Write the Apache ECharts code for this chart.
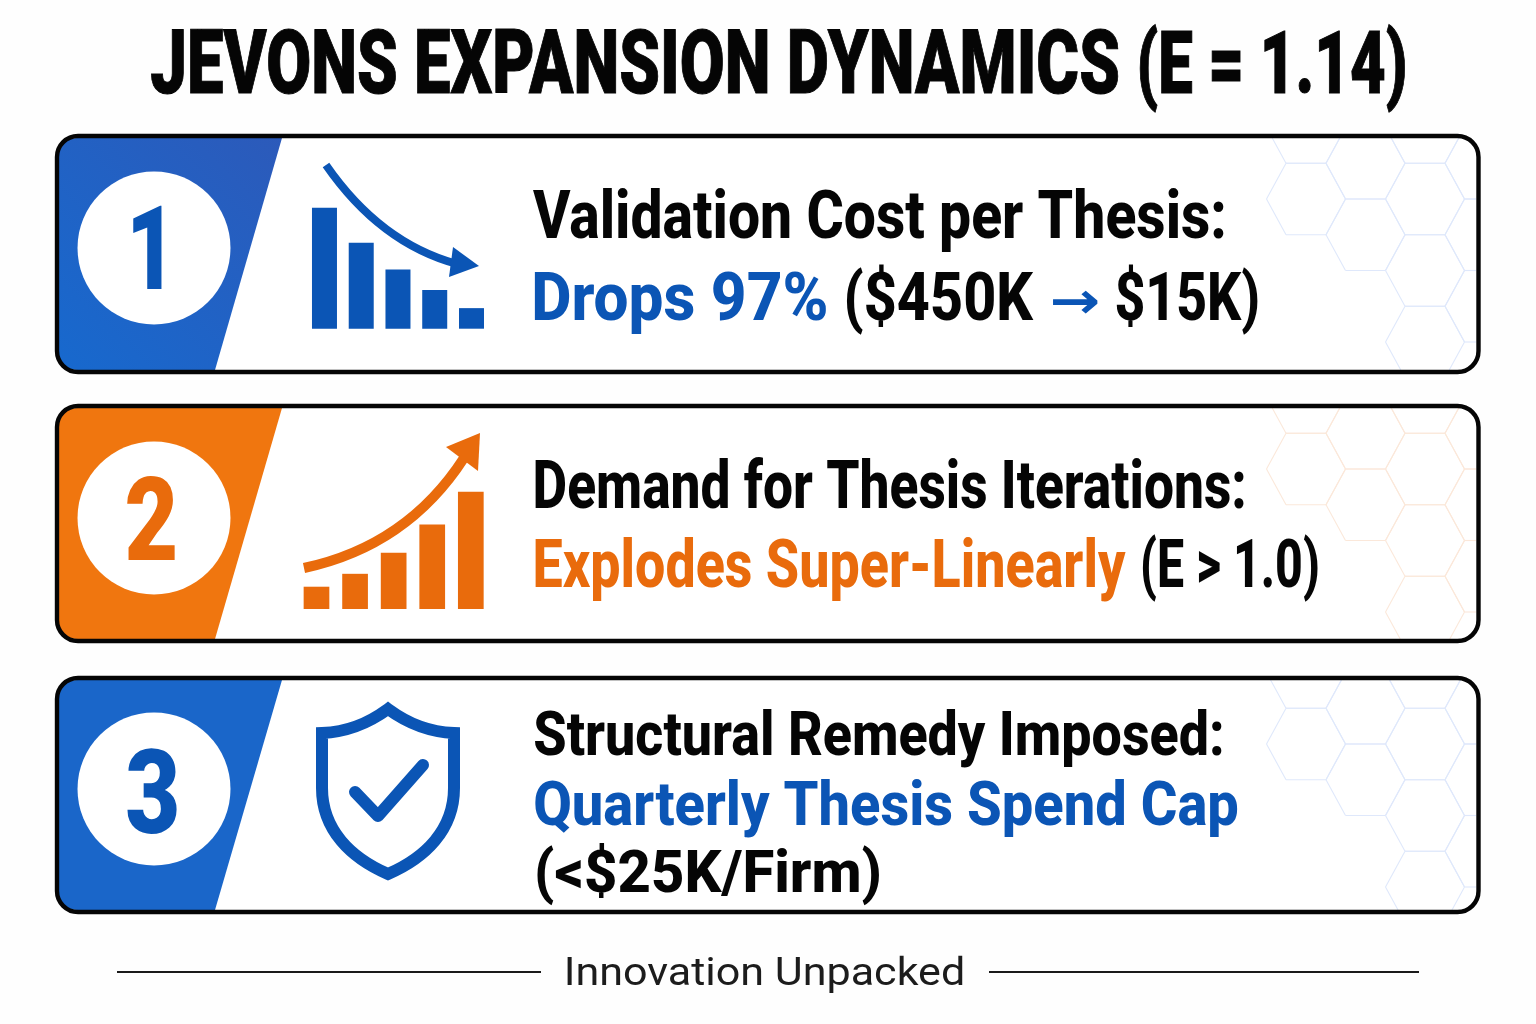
<!DOCTYPE html>
<html><head><meta charset="utf-8">
<style>html,body{margin:0;padding:0;background:#fefefe}#c{width:1536px;height:1024px}</style>
<script src="https://cdn.jsdelivr.net/npm/echarts@6/dist/echarts.min.js"></script>
</head><body><div id="c"></div>
<script>
// ---- content ----
const titlePieces = ['JEVONS EXPANSION DYNAMICS', '(E = 1.14)'];
const badgeLabels = ['1', '2', '3'];
const headings = ['Validation Cost per Thesis:', 'Demand for Thesis Iterations:', 'Structural Remedy Imposed:'];
const costPieces = ['Drops 97%', '($450K', '\u2192', '$15K)'];
const demandPieces = ['Explodes Super-Linearly', '(E > 1.0)'];
const remedyLines = ['Quarterly Thesis Spend Cap', '(<$25K/Firm)'];
const footerText = 'Innovation Unpacked';
const barCategories = ['a', 'b', 'c', 'd', 'e'];
const costBars = [100, 71, 49, 32, 17];
const demandBars = [19, 30, 48, 72, 100];

// ---- style ----
const BLUE = '#0B55B5', ORANGE = '#E96B0C', BLACK = '#050505';
const NARROW = 'Roboto, sans-serif';
const ctx = document.createElement('canvas').getContext('2d');

let shapeId = 0;
function svg(d, style) {
  const name = 'svgShape' + (shapeId++);
  echarts.graphic.registerShape(name, echarts.graphic.extendPath(d, {}));
  return { type: name, style: style };
}

function fit(text, x0, x1, base, size, color, opt) {
  opt = opt || {};
  const font = (opt.weight || '800') + ' ' + size + 'px ' + (opt.family || NARROW);
  ctx.font = font; ctx.textBaseline = 'middle'; ctx.textAlign = 'left';
  const m = ctx.measureText(text);
  const ink = m.actualBoundingBoxLeft + m.actualBoundingBoxRight;
  const s = (x1 - x0) / ink;
  const d = ctx.measureText('H').actualBoundingBoxDescent;
  return {
    type: 'text', x: x0 + s * m.actualBoundingBoxLeft, y: base - d, scaleX: s, scaleY: opt.sy || 1,
    style: { text: text, font: font, fill: color, align: 'left', verticalAlign: 'middle',
      stroke: opt.stroke ? color : null, lineWidth: opt.stroke || 0 }
  };
}

function clipSeg(a, b, box) {
  let t0 = 0, t1 = 1; const dx = b[0] - a[0], dy = b[1] - a[1];
  const tests = [[-dx, a[0] - box[0]], [dx, box[2] - a[0]], [-dy, a[1] - box[1]], [dy, box[3] - a[1]]];
  for (const [p, q] of tests) {
    if (p === 0) { if (q < 0) return null; continue; }
    const r = q / p;
    if (p < 0) { if (r > t1) return null; if (r > t0) t0 = r; }
    else { if (r < t0) return null; if (r < t1) t1 = r; }
  }
  return [[a[0] + t0 * dx, a[1] + t0 * dy], [a[0] + t1 * dx, a[1] + t1 * dy]];
}

const hexCells = [[0,-2],[0,0],[1,-1],[1,1],[2,-2],[2,0],[2,2],[2,4],[3,-1],[3,1],[3,3]];
function hexes(dy, top, bot, color) {
  const out = [];
  const box = [1200, top + 2, 1476, bot - 2];
  hexCells.forEach(([c, r]) => {
    const cx = 1306 + 59.5 * c, cy = 199 + 35.75 * r + dy;
    const v = [[cx-39.5,cy],[cx-20,cy-35.75],[cx+20,cy-35.75],[cx+39.5,cy],[cx+20,cy+35.75],[cx-20,cy+35.75]];
    v.forEach((p, i) => {
      const seg = clipSeg(p, v[(i + 1) % 6], box);
      if (seg) out.push({ type: 'line', shape: { x1: seg[0][0], y1: seg[0][1], x2: seg[1][0], y2: seg[1][1] },
        style: { stroke: color, lineWidth: 1.1 } });
    });
  });
  return out;
}

function panel(top, bot, fill, cy, hexDy, hexColor) {
  const t = top + 2, b = bot - 2;
  const tilt = 282, foot = 215;
  return [
    ...hexes(hexDy, top, bot, hexColor),
    svg(`M${tilt},${t}L${foot},${b}L78,${b}Q57,${b} 57,${b-21}L57,${t+21}Q57,${t} 78,${t}Z`, { fill: fill }),
    { type: 'rect', shape: { x: 57, y: top, width: 1421.5, height: bot - top, r: 21 }, style: { fill: null, stroke: '#050505', lineWidth: 4.4 } },
    { type: 'circle', shape: { cx: 154, cy: cy, r: 76.5 }, style: { fill: '#ffffff' } }
  ];
}

function grad(c0, c1) {
  return { type: 'linear', x: 0, y: 1, x2: 1, y2: 0, global: false, colorStops: [{ offset: 0, color: c0 }, { offset: 1, color: c1 }] };
}

const graphics = [
  { type: 'rect', shape: { x: 57, y: 136, width: 1421, height: 236, r: 21 }, style: { fill: '#ffffff' } },
  { type: 'rect', shape: { x: 57, y: 406, width: 1421, height: 235, r: 21 }, style: { fill: '#ffffff' } },
  { type: 'rect', shape: { x: 57, y: 678, width: 1421, height: 234, r: 21 }, style: { fill: '#ffffff' } },
  ...panel(136, 372, grad('#1769CE', '#2C5ABA'), 248, 0, '#DFE8FB'),
  ...panel(406, 641, '#F0760F', 518, 270, '#FBE8DA'),
  ...panel(678, 912, '#1A66C9', 789, 545, '#DFE8FB'),

  fit(titlePieces[0], 151, 1118, 93.5, 89, BLACK, { weight: '900', stroke: 1 }),
  fit(titlePieces[1], 1140, 1405, 93, 87, BLACK, { weight: '900', stroke: 1 }),

  fit(badgeLabels[0], 133, 162, 289, 116, BLUE, { weight: '900' }),
  fit(badgeLabels[1], 127, 175, 560, 116, ORANGE, { weight: '900' }),
  fit(badgeLabels[2], 127, 177, 833, 116, BLUE, { weight: '900' }),

  fit(headings[0], 533, 1224, 238, 67, BLACK),
  fit(costPieces[0], 534, 826, 320, 67, BLUE),
  fit(costPieces[1], 847, 1034, 320, 67, BLACK),
  fit(costPieces[2], 1052, 1098, 318, 50, BLUE, { family: '"DejaVu Sans"', weight: 'bold' }),
  fit(costPieces[3], 1116, 1258, 320, 67, BLACK),

  fit(headings[1], 535, 1244, 508, 67, BLACK),
  fit(demandPieces[0], 535, 1126, 587, 67, ORANGE),
  fit(demandPieces[1], 1143, 1318, 587, 67, BLACK),

  fit(headings[2], 535, 1222, 755, 62, BLACK),
  fit(remedyLines[0], 535, 1238, 825, 62, BLUE),
  fit(remedyLines[1], 537, 880, 892, 60, BLACK),

  // falling arrow
  svg('M326,165 Q380,243 457,264', { fill: null, stroke: BLUE, lineWidth: 8 }),
  { type: 'polygon', shape: { points: [[453,247],[479,266],[449,277]] }, style: { fill: BLUE } },
  // rising arrow
  svg('M304,568 Q407,546 464,458', { fill: null, stroke: ORANGE, lineWidth: 10 }),
  { type: 'polygon', shape: { points: [[446,447],[480,433],[478,471]] }, style: { fill: ORANGE } },
  // shield
  svg('M388,709 C410,725 430,732 454,733 L454,788 C454,830 425,858 388,874 C351,858 322,830 322,788 L322,733 C346,732 366,725 388,709Z',
    { fill: null, stroke: BLUE, lineWidth: 12, lineJoin: 'miter' }),
  svg('M355,792 L378,816 L423,765', { fill: null, stroke: BLUE, lineWidth: 12, lineCap: 'round', lineJoin: 'round' }),

  // footer
  { type: 'line', shape: { x1: 117, y1: 972, x2: 541, y2: 972 }, style: { stroke: '#1a1a1a', lineWidth: 2 } },
  { type: 'line', shape: { x1: 989, y1: 972, x2: 1419, y2: 972 }, style: { stroke: '#1a1a1a', lineWidth: 2 } },
  fit(footerText, 567, 963, 985, 39, '#1c1c1c', { weight: 'normal' })
];

function barSeries(idx, vals, color, w) {
  return { type: 'bar', xAxisIndex: idx, yAxisIndex: idx, data: vals, barWidth: w, silent: true,
    itemStyle: { color: color }, animation: false };
}
function axes(n) {
  return Array.from({ length: n }, (_, i) => i);
}
const option = {
  backgroundColor: '#fefefe',
  animation: false,
  grid: [
    { left: 306.1, width: 183.75, top: 207.7, height: 121 },
    { left: 297.2, width: 192.9, top: 491.7, height: 117.3 }
  ],
  xAxis: axes(2).map(i => ({ type: 'category', gridIndex: i, data: barCategories, show: false })),
  yAxis: axes(2).map(i => ({ type: 'value', gridIndex: i, min: 0, max: 100, show: false })),
  series: [barSeries(0, costBars, BLUE, 25), barSeries(1, demandBars, ORANGE, 25.7)],
  graphic: { elements: graphics }
};
echarts.init(document.getElementById('c')).setOption(option);
</script>
</body></html>
